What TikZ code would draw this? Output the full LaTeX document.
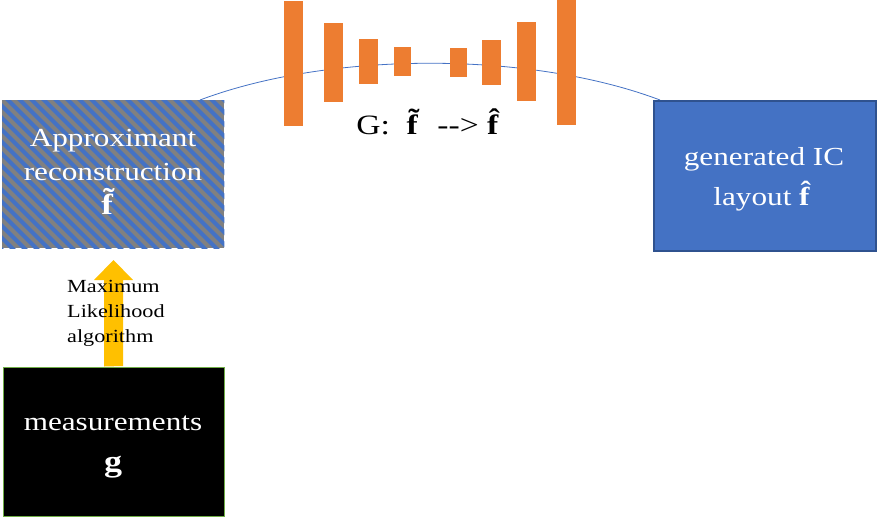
\documentclass[tikz,border=0pt]{standalone}
\usepackage{fontspec}
\setmainfont[FakeStretch=1.2]{Liberation Serif}
\definecolor{orangebar}{HTML}{ED7D31}
\definecolor{bluefill}{HTML}{4472C4}
\definecolor{blueedge}{HTML}{2F528F}
\definecolor{greenedge}{HTML}{70AD47}
\definecolor{yellowarrow}{HTML}{FFC000}
\definecolor{grayfill}{HTML}{808080}
\begin{document}
\begin{tikzpicture}[x=1pt,y=-1pt,
  bar/.style={fill=orangebar,draw=none},
  boxtext/.style={text=white,align=center,inner sep=0pt},
  stripe/.style={draw=bluefill,line width=4.2pt},
  arcline/.style={draw=bluefill,line width=0.8pt},
  smalltext/.style={align=left,inner sep=0pt,font=\fontsize{18.5}{25}\selectfont}]
\useasboundingbox (0,0) rectangle (877,517);
% connector arc (behind the bars)
\coordinate (a1) at (200,100);
\coordinate (a2) at (660,100);
\draw[arcline] (a1) .. controls (330,51) and (530,51) .. (a2);
% approximant reconstruction box
\node[fill=grayfill,draw=none,inner sep=0pt,minimum width=222pt,minimum height=148pt,anchor=north west] (approx) at (2,100) {};
\begin{scope}
  \clip (approx.south west) rectangle (approx.north east);
  \foreach \i in {-170,-158,...,240} \draw[stripe] (\i,90) -- ++(170,170);
\end{scope}
\node[boxtext,font=\fontsize{26}{34}\selectfont] (approxtext) at (113,172) {Approximant\\reconstruction\\{\fontsize{29}{34}\selectfont\textbf{\~{f}}}};
% generated layout box
\node[fill=bluefill,draw=blueedge,line width=1.5pt,inner sep=0pt,minimum width=222pt,minimum height=150pt,anchor=north west] (gen) at (653,100) {};
\node[boxtext,font=\fontsize{26}{40}\selectfont] (gentext) at (764,179) {generated IC\\layout \textbf{\^{f}}};
% measurements box
\node[fill=black,draw=greenedge,line width=1.5pt,inner sep=0pt,minimum width=221pt,minimum height=149pt,anchor=north west] (meas) at (2.5,366.5) {};
\node[boxtext,font=\fontsize{26}{41}\selectfont] (meastext) at (113,447) {measurements\\{\fontsize{30}{41}\selectfont\textbf{g}}};
% block arrow
\fill[yellowarrow] (meas.north -| 104,0) -- (104,280) -- (94,280) -- (113.5,260) -- (133,280) -- (123,280) -- (123,366) -- cycle;
\node[smalltext,anchor=north west] (ml) at (67,280.4) {Maximum\\Likelihood\\algorithm};
% generator bars
\fill[bar] (284,1) rectangle (303,126);
\fill[bar] (324,23) rectangle (343,102);
\fill[bar] (359,39) rectangle (378,84);
\fill[bar] (394,47) rectangle (411,76);
\fill[bar] (450,48) rectangle (467,77);
\fill[bar] (482,40) rectangle (501,85);
\fill[bar] (517,22) rectangle (536,101);
\fill[bar] (557,0) rectangle (576,125);
\node[inner sep=0pt,font=\fontsize{28}{30}\selectfont] (gtext) at (430,122) {G:\hspace{0.6em}\textbf{\~{f}}\hspace{0.3em}-{}-{}> \textbf{\^{f}}};
\end{tikzpicture}
\end{document}
